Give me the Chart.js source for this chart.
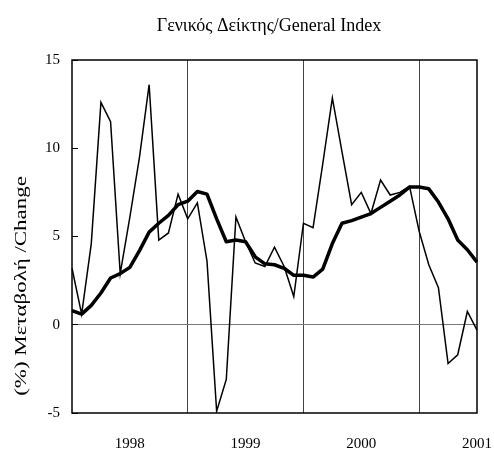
<!DOCTYPE html>
<html>
<head>
<meta charset="utf-8">
<script src="https://cdn.jsdelivr.net/npm/chart.js@4/dist/chart.umd.min.js"></script>
<style>
  html, body { margin: 0; padding: 0; background: #fff; }
</style>
</head>
<body>
<canvas id="chart" width="494" height="455"></canvas>
<script>
// months on the category axis
const months = [
    '1998-01', '1998-02', '1998-03', '1998-04', '1998-05', '1998-06',
    '1998-07', '1998-08', '1998-09', '1998-10', '1998-11', '1998-12',
    '1999-01', '1999-02', '1999-03', '1999-04', '1999-05', '1999-06',
    '1999-07', '1999-08', '1999-09', '1999-10', '1999-11', '1999-12',
    '2000-01', '2000-02', '2000-03', '2000-04', '2000-05', '2000-06',
    '2000-07', '2000-08', '2000-09', '2000-10', '2000-11', '2000-12',
    '2001-01', '2001-02', '2001-03', '2001-04', '2001-05', '2001-06',
    '2001-07'
];

// monthly % change (thin line)
const monthly = [
    3.2, 0.6, 4.6, 12.6, 11.5, 2.9, 6.1, 9.5, 13.6, 4.8, 5.2, 7.4,
    6.0, 6.9, 3.6, -4.9, -3.1, 6.1, 4.7, 3.5, 3.3, 4.4, 3.3, 1.6,
    5.75, 5.5, 9.1, 12.85, 9.8, 6.8, 7.5, 6.3, 8.2, 7.35, 7.5, 7.85,
    5.3, 3.4, 2.1, -2.2, -1.7, 0.75, -0.3
];

// moving average (thick line)
const average = [
    0.8, 0.6, 1.1, 1.8, 2.65, 2.9, 3.25, 4.2, 5.25, 5.75, 6.2, 6.8,
    7.0, 7.55, 7.4, 6.0, 4.7, 4.8, 4.7, 3.85, 3.45, 3.4, 3.2, 2.8,
    2.8, 2.7, 3.15, 4.6, 5.75, 5.9, 6.1, 6.3, 6.65, 7.0, 7.35, 7.8,
    7.8, 7.7, 6.95, 6.0, 4.8, 4.25, 3.55
];

const yTicks = [-5, 0, 5, 10, 15];
const chartTitle = 'Γενικός Δείκτης/General Index';
const yTitle = '(%) Μεταβολή /Change';

const FONT = 'Liberation Serif';

// frame round the plot + the two titles
const framePlugin = {
    id: 'frame',
    afterDatasetsDraw(chart) {
        const { ctx, chartArea: a } = chart;
        ctx.save();
        ctx.strokeStyle = '#000';
        ctx.lineWidth = 1.5;
        ctx.strokeRect(a.left, a.top, a.right - a.left, a.bottom - a.top);
        ctx.restore();
    },
    afterDraw(chart) {
        const { ctx } = chart;
        ctx.save();
        ctx.fillStyle = '#000';
        ctx.textAlign = 'center';
        ctx.textBaseline = 'middle';

        ctx.font = '18px "' + FONT + '"';
        ctx.fillText(chartTitle, 269, 26);

        // the y title in the reference is drawn a bit stretched along its length
        ctx.font = '17px "' + FONT + '"';
        ctx.translate(22, 286);
        ctx.rotate(-Math.PI / 2);
        ctx.scale(1.35, 1);
        ctx.fillText(yTitle, 0, 0);
        ctx.restore();
    }
};

new Chart(document.getElementById('chart'), {
    type: 'line',
    data: {
        labels: months,
        datasets: [
            {
                label: 'average',
                data: average,
                borderColor: '#000',
                borderWidth: 3.5,
                borderJoinStyle: 'round',
                pointRadius: 0,
                tension: 0
            },
            {
                label: 'monthly',
                data: monthly,
                borderColor: '#000',
                borderWidth: 1.5,
                pointRadius: 0,
                tension: 0
            }
        ]
    },
    options: {
        responsive: false,
        animation: false,
        layout: { padding: { top: 60, right: 17, left: 0, bottom: 0 } },
        plugins: {
            legend: { display: false },
            title: { display: false },
            tooltip: { enabled: false }
        },
        scales: {
            x: {
                type: 'category',
                offset: false,
                border: { display: false },
                grid: {
                    drawTicks: false,
                    lineWidth: 1,
                    color: c => (c.index % 12 === 0 && c.index > 0) ? '#444' : 'rgba(0,0,0,0)'
                },
                ticks: {
                    autoSkip: false,
                    maxRotation: 0,
                    minRotation: 0,
                    padding: 22,
                    color: '#000',
                    font: { family: FONT, size: 15 },
                    callback: (v, i) => months[i].endsWith('-07') ? months[i].slice(0, 4) : ''
                },
                afterFit: s => {
                    s.height = 42;
                    s.paddingLeft = 0;
                    s.paddingRight = 0;
                }
            },
            y: {
                min: -5,
                max: 15,
                border: { display: false },
                afterBuildTicks: s => { s.ticks = yTicks.map(v => ({ value: v })); },
                grid: {
                    lineWidth: 1,
                    tickLength: -6,
                    tickColor: '#000',
                    color: c => (c.tick && c.tick.value === 0) ? '#777' : 'rgba(0,0,0,0)'
                },
                ticks: {
                    padding: 18,
                    color: '#000',
                    font: { family: FONT, size: 15 }
                },
                afterFit: s => {
                    s.width = 72;
                    s.paddingTop = 0;
                    s.paddingBottom = 0;
                }
            }
        }
    },
    plugins: [framePlugin]
});
</script>
</body>
</html>
